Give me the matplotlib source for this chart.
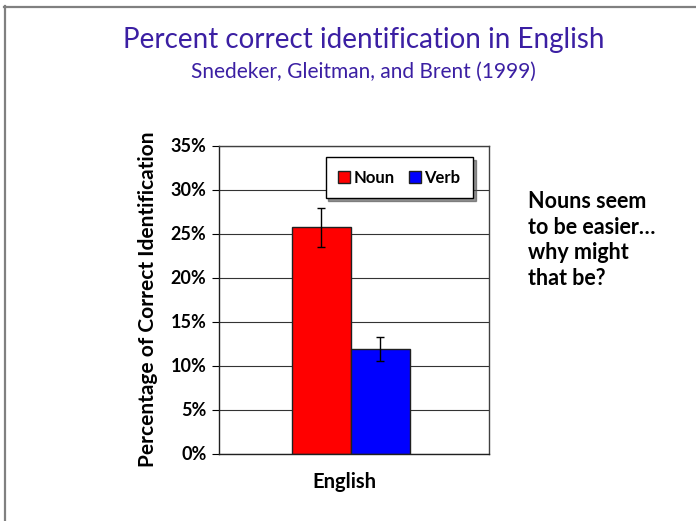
import matplotlib
matplotlib.use("Agg")
import matplotlib.pyplot as plt
import numpy as np

# Data
categories = ["English"]
series = ["Noun", "Verb"]
values = [25.7, 11.85]      # percent
errors = [2.2, 1.35]        # percent
colors = ["#ff0000", "#0000ff"]
yticks = [0, 5, 10, 15, 20, 25, 30, 35]
ytick_labels = [f"{t}%" for t in yticks]

plt.rcParams['font.family'] = ['Lato', 'DejaVu Sans']

W, H = 696, 521
fig = plt.figure(figsize=(W / 100, H / 100), dpi=100)
fig.patch.set_facecolor("white")

def fx(px):
    return px / W

def fy(py):
    return 1 - py / H

# Slide frame lines (top and left)
fig.add_artist(plt.Line2D([fx(4), fx(W)], [fy(6.5), fy(6.5)], color="#808080", lw=1.6,
                          transform=fig.transFigure))
fig.add_artist(plt.Line2D([fx(4.5), fx(4.5)], [fy(6), fy(H)], color="#808080", lw=1.6,
                          transform=fig.transFigure))

# Axes placement (pixels): left 219, right 489, top 145.5, bottom 453.5
L, R, T, B = 219, 489, 145.5, 453.5
ax = fig.add_axes([fx(L), fy(B), (R - L) / W, (B - T) / H])

bar_w = 1.0
offsets = [-0.5, 0.5]
x0 = np.arange(len(categories))
handles = []
for i, s in enumerate(series):
    b = ax.bar(x0 + offsets[i], [values[i]], width=bar_w, color=colors[i],
               edgecolor="#202020", linewidth=1.0, label=s, zorder=2)
    ax.errorbar(x0 + offsets[i], [values[i]], yerr=[errors[i]], fmt="none",
                ecolor="black", elinewidth=1.0, capsize=3, capthick=1.0, zorder=3)
    handles.append(b)

ax.set_xlim(-2.237, 2.339)
ax.set_ylim(0, 35)
ax.set_yticks(yticks)
ax.set_yticklabels(ytick_labels, fontsize=13, fontweight="bold")
ax.set_xticks(x0 - 0.12)
ax.set_xticklabels(categories, fontsize=14.5, fontweight="bold")
ax.tick_params(axis="x", length=0, pad=13)
ax.tick_params(axis="y", direction="out", length=5, width=0.8, pad=4)

ax.yaxis.grid(True, color="#333333", linewidth=0.8)
ax.set_axisbelow(True)

for side in ["top", "right"]:
    ax.spines[side].set_color("#404040")
    ax.spines[side].set_linewidth(1.0)
for side in ["left", "bottom"]:
    ax.spines[side].set_color("#202020")
    ax.spines[side].set_linewidth(1.0)

ax.set_ylabel("Percentage of Correct Identification", fontsize=15, fontweight="bold",
              labelpad=9)

leg = ax.legend(handles=handles, labels=series, loc="upper left",
                bbox_to_anchor=(0.395, 0.962), borderaxespad=0, ncol=2,
                frameon=True, fancybox=False, edgecolor="black",
                shadow={"color": "0.3", "alpha": 0.6},
                handlelength=0.7, handleheight=0.7, handletextpad=0.2,
                columnspacing=0.9, borderpad=0.75,
                prop={"weight": "bold", "size": 12})
leg.get_frame().set_linewidth(1.0)
leg.set_zorder(5)

# Titles
fig.text(fx(364), fy(48), "Percent correct identification in English", ha="center",
         va="baseline", fontsize=20, color="#3b1fa3")
fig.text(fx(363), fy(78), "Snedeker, Gleitman, and Brent (1999)", ha="center",
         va="baseline", fontsize=15, color="#3b1fa3")

# Side note
fig.text(fx(528), fy(191), "Nouns seem\nto be easier…\nwhy might\nthat be?", ha="left",
         va="top", fontsize=15.5, fontweight="bold", color="black", linespacing=1.27)

fig.savefig("out.png", dpi=100, facecolor="white")
